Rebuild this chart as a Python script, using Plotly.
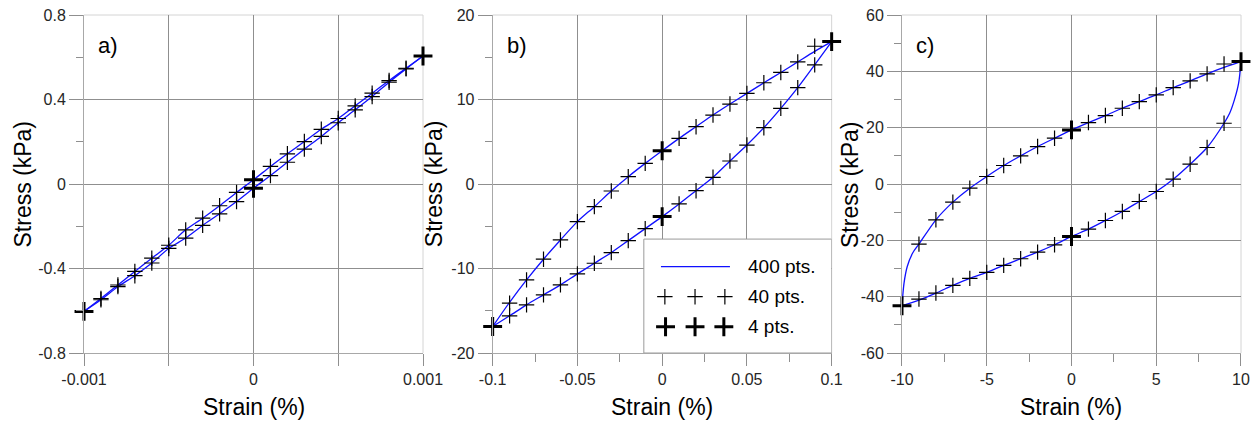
import plotly.graph_objects as go

# ---------------- data ----------------
# panel a)
strain_a = [-0.001, -0.0009, -0.0008, -0.0007, -0.0006, -0.0005, -0.0004, -0.0003, -0.0002, -0.0001,
            0.0, 0.0001, 0.0002, 0.0003, 0.0004, 0.0005, 0.0006, 0.0007, 0.0008, 0.0009, 0.001]
stress_a_up = [-0.603, -0.542, -0.478, -0.414, -0.351, -0.29, -0.217, -0.162, -0.103, -0.04,
               0.02, 0.083, 0.143, 0.201, 0.259, 0.31, 0.370, 0.43, 0.49, 0.548, 0.606]
stress_a_dn = [-0.603, -0.548, -0.486, -0.434, -0.374, -0.305, -0.256, -0.196, -0.141, -0.083,
               -0.02, 0.04, 0.103, 0.165, 0.225, 0.29, 0.351, 0.414, 0.482, 0.545, 0.606]
strain_a4 = [-0.001, 0.0, 0.001, 0.0]
stress_a4 = [-0.603, 0.02, 0.606, -0.02]

# panel b)
strain_b = [-0.1, -0.09, -0.08, -0.07, -0.06, -0.05, -0.04, -0.03, -0.02, -0.01,
            0.0, 0.01, 0.02, 0.03, 0.04, 0.05, 0.06, 0.07, 0.08, 0.09, 0.1]
stress_b_up = [-16.87, -14.1, -11.35, -8.9, -6.62, -4.45, -2.68, -0.83, 0.87, 2.44,
               3.94, 5.4, 6.78, 8.16, 9.46, 10.72, 11.98, 13.2, 14.45, 16.3, 16.85]
stress_b_dn = [-16.87, -15.6, -14.3, -13.12, -11.94, -10.64, -9.38, -8.12, -6.7, -5.28,
               -3.86, -2.36, -0.79, 0.79, 2.72, 4.61, 6.66, 8.95, 11.4, 14.1, 16.85]
line_b_up = [-16.87, -14.0, -11.35, -8.9, -6.62, -4.45, -2.68, -0.83, 0.87, 2.44,
             3.94, 5.4, 6.78, 8.16, 9.46, 10.72, 11.98, 13.2, 14.45, 15.7, 16.85]
line_b_dn = stress_b_dn
strain_b4 = [-0.1, 0.0, 0.1, 0.0]
stress_b4 = [-16.87, 3.94, 16.85, -3.86]

# panel c)
strain_c = [-10, -9, -8, -7, -6, -5, -4, -3, -2, -1, 0, 1, 2, 3, 4, 5, 6, 7, 8, 9, 10]
stress_c_up = [-43.2, -21.34, -12.71, -6.44, -1.48, 2.66, 6.56, 9.99, 13.3, 16.26,
               19.21, 21.81, 24.3, 26.9, 29.26, 31.63, 34.23, 36.6, 39.08, 42.6, 43.45]
stress_c_dn = [-43.2, -40.85, -38.72, -36.0, -33.52, -31.39, -28.9, -26.54, -24.18, -21.58,
               -18.62, -16.02, -12.95, -9.75, -6.21, -2.66, 1.71, 7.03, 12.95, 21.57, 43.45]
line_c_up_x = [-10, -9.88, -9.69, -9.37, -9, -8, -7, -6, -5, -4, -3, -2, -1, 0, 1, 2, 3, 4, 5, 6, 7, 8, 9, 10]
line_c_up_y = [-43.2, -35.2, -29.3, -24.5, -21.34, -12.71, -6.44, -1.48, 2.66, 6.56, 9.99, 13.3, 16.26,
               19.21, 21.81, 24.3, 26.9, 29.26, 31.63, 34.23, 36.6, 39.08, 41.4, 43.45]
line_c_dn_x = [-10, -9, -8, -7, -6, -5, -4, -3, -2, -1, 0, 1, 2, 3, 4, 5, 6, 7, 8, 9, 9.33, 9.61, 9.86, 10]
line_c_dn_y = [-43.2, -41.2, -38.72, -36.0, -33.52, -31.39, -28.9, -26.54, -24.18, -21.58,
               -18.62, -16.02, -12.95, -9.75, -6.21, -2.66, 1.71, 7.03, 12.95, 21.57, 25.1, 29.85, 35.8, 43.45]
strain_c4 = [-10, 0, 10, 0]
stress_c4 = [-43.2, 19.21, 43.45, -18.62]

# axes ticks
xt_a = [-0.001, -0.0005, 0, 0.0005, 0.001]
xl_a = ["-0.001", "", "0", "", "0.001"]
yt_a = [-0.8, -0.4, 0, 0.4, 0.8]
yl_a = ["-0.8", "-0.4", "0", "0.4", "0.8"]
xt_b = [-0.1, -0.05, 0, 0.05, 0.1]
xl_b = ["-0.1", "-0.05", "0", "0.05", "0.1"]
yt_b = [-20, -10, 0, 10, 20]
yl_b = ["-20", "-10", "0", "10", "20"]
xt_c = [-10, -5, 0, 5, 10]
xl_c = ["-10", "-5", "0", "5", "10"]
yt_c = [-60, -40, -20, 0, 20, 40, 60]
yl_c = ["-60", "-40", "-20", "0", "20", "40", "60"]

panel_labels = ["a)", "b)", "c)"]
legend_labels = ["400 pts.", "40 pts.", "4 pts."]

# ---------------- styling ----------------
BLUE = "#1010ff"
FONT = "Liberation Sans, Arial, sans-serif"
GRID = "#8f8f8f"
AXL = "#a8a8a8"
FRAME = "#d4d4d4"

fig = go.Figure()

x_ranges = [[-0.001, 0.001], [-0.1, 0.1], [-10, 10]]
y_ranges = [[-0.8, 0.8], [-20, 20], [-60, 60]]

# legend box of panel b) (white box hiding grid lines), drawn first in that panel
def fx(f, r=x_ranges[1]):
    return r[0] + f * (r[1] - r[0])
def fy(f, r=y_ranges[1]):
    return r[0] + f * (r[1] - r[0])

box_fx = [0.446, 1.0]
box_fy = [0.0, 0.337]
fig.add_trace(go.Scatter(x=[fx(box_fx[0]), fx(box_fx[1]), fx(box_fx[1]), fx(box_fx[0]), fx(box_fx[0])],
                         y=[fy(box_fy[0]), fy(box_fy[0]), fy(box_fy[1]), fy(box_fy[1]), fy(box_fy[0])],
                         mode="lines", fill="toself", fillcolor="white",
                         line=dict(color="#9a9a9a", width=1), xaxis="x2", yaxis="y2",
                         cliponaxis=False, showlegend=False, hoverinfo="skip"))

def add_panel(n, up_x, up_y, dn_x, dn_y, mx, m_up, m_dn, x4, y4):
    xa = "x" if n == 1 else f"x{n}"
    ya = "y" if n == 1 else f"y{n}"
    for lx, ly in ((up_x, up_y), (dn_x, dn_y)):
        fig.add_trace(go.Scatter(x=lx, y=ly, mode="lines", xaxis=xa, yaxis=ya,
                                 line=dict(color=BLUE, width=1.3, shape="spline", smoothing=0.8),
                                 showlegend=False, hoverinfo="skip"))
    fig.add_trace(go.Scatter(x=mx + mx, y=m_up + m_dn, mode="markers", xaxis=xa, yaxis=ya,
                             marker=dict(symbol="cross-thin", size=11, color="black",
                                         line=dict(color="black", width=1.2)),
                             cliponaxis=False, showlegend=False, hoverinfo="skip"))
    fig.add_trace(go.Scatter(x=x4, y=y4, mode="markers", xaxis=xa, yaxis=ya,
                             marker=dict(symbol="cross-thin", size=13.5, color="black",
                                         line=dict(color="black", width=3)),
                             cliponaxis=False, showlegend=False, hoverinfo="skip"))

add_panel(1, strain_a, stress_a_up, strain_a, stress_a_dn, strain_a, stress_a_up, stress_a_dn, strain_a4, stress_a4)
add_panel(2, strain_b, line_b_up, strain_b, line_b_dn, strain_b, stress_b_up, stress_b_dn, strain_b4, stress_b4)
add_panel(3, line_c_up_x, line_c_up_y, line_c_dn_x, line_c_dn_y, strain_c, stress_c_up, stress_c_dn, strain_c4, stress_c4)

tickfont = dict(family=FONT, size=16, color="#262626")

def xaxis(dom, tv, tt, rng, minor):
    d = dict(domain=dom, range=rng, tickmode="array", tickvals=tv, ticktext=tt,
             showgrid=True, gridcolor=GRID, gridwidth=1, zeroline=False,
             showline=True, linecolor=AXL, linewidth=1,
             ticks="outside", ticklen=12, tickcolor=GRID, tickwidth=1,
             tickfont=tickfont, fixedrange=True)
    if minor:
        d["minor"] = dict(dtick=minor, tick0=0, ticks="outside", ticklen=8,
                          tickcolor=GRID, tickwidth=1, showgrid=False)
    return d

def yaxis(anchor, tv, tt, rng, minor):
    return dict(domain=[0, 1], anchor=anchor, range=rng, tickmode="array", tickvals=tv, ticktext=tt,
                showgrid=True, gridcolor=GRID, gridwidth=1, zeroline=False,
                showline=True, linecolor=AXL, linewidth=1,
                ticks="outside", ticklen=14, tickcolor=GRID, tickwidth=1,
                tickfont=tickfont, fixedrange=True,
                minor=dict(dtick=minor, tick0=0, ticks="outside", ticklen=7,
                           tickcolor=GRID, tickwidth=1, showgrid=False))

doms = [[0.0, 0.293], [0.3532, 0.6462], [0.707, 1.0]]
fig.update_layout(
    xaxis=dict(**xaxis(doms[0], xt_a, xl_a, x_ranges[0], None), anchor="y"),
    xaxis2=dict(**xaxis(doms[1], xt_b, xl_b, x_ranges[1], 0.025), anchor="y2"),
    xaxis3=dict(**xaxis(doms[2], xt_c, xl_c, x_ranges[2], 2.5), anchor="y3"),
    yaxis=yaxis("x", yt_a, yl_a, y_ranges[0], 0.2),
    yaxis2=yaxis("x2", yt_b, yl_b, y_ranges[1], 5),
    yaxis3=yaxis("x3", yt_c, yl_c, y_ranges[2], 10),
)

shapes = []
annotations = []
yshift_title = [-61.5, -58.5, -52]
for i in range(3):
    sx = "x" if i == 0 else f"x{i+1}"
    sy = "y" if i == 0 else f"y{i+1}"
    # light top / right frame
    shapes.append(dict(type="line", xref=f"{sx} domain", yref=f"{sy} domain", x0=0, x1=1, y0=1, y1=1,
                       line=dict(color=FRAME, width=1), layer="below"))
    shapes.append(dict(type="line", xref=f"{sx} domain", yref=f"{sy} domain", x0=1, x1=1, y0=0, y1=1,
                       line=dict(color=FRAME, width=1), layer="below"))
    annotations.append(dict(text=panel_labels[i], xref=f"{sx} domain", yref=f"{sy} domain",
                            x=0.036, y=0.911, xanchor="left", yanchor="middle", showarrow=False,
                            font=dict(family=FONT, size=22, color="black")))
    annotations.append(dict(text="Strain (%)", xref=f"{sx} domain", yref=f"{sy} domain",
                            x=0.5, y=0, yshift=-54, xanchor="center", yanchor="middle", showarrow=False,
                            font=dict(family=FONT, size=23, color="black")))
    annotations.append(dict(text="Stress (kPa)", xref=f"{sx} domain", yref=f"{sy} domain",
                            x=0, y=0.5, xshift=yshift_title[i], textangle=-90,
                            xanchor="center", yanchor="middle", showarrow=False,
                            font=dict(family=FONT, size=23, color="black")))

# legend samples inside panel b)
leg_rows = [0.2553, 0.1666, 0.0778]
fig.add_trace(go.Scatter(x=[fx(0.4965), fx(0.700)], y=[fy(leg_rows[0])] * 2, mode="lines",
                         xaxis="x2", yaxis="y2", line=dict(color=BLUE, width=1.3),
                         showlegend=False, hoverinfo="skip"))
fig.add_trace(go.Scatter(x=[fx(0.508), fx(0.597), fx(0.685)], y=[fy(leg_rows[1])] * 3, mode="markers",
                         xaxis="x2", yaxis="y2",
                         marker=dict(symbol="cross-thin", size=11, color="black", line=dict(color="black", width=1.2)),
                         showlegend=False, hoverinfo="skip"))
fig.add_trace(go.Scatter(x=[fx(0.51), fx(0.597), fx(0.682)], y=[fy(leg_rows[2])] * 3, mode="markers",
                         xaxis="x2", yaxis="y2",
                         marker=dict(symbol="cross-thin", size=13.5, color="black", line=dict(color="black", width=3)),
                         showlegend=False, hoverinfo="skip"))
for lab, ry in zip(legend_labels, leg_rows):
    annotations.append(dict(text=lab, xref="x2 domain", yref="y2 domain", x=0.747, y=ry,
                            xanchor="left", yanchor="middle", showarrow=False,
                            font=dict(family=FONT, size=19, color="black")))

fig.update_layout(
    width=1256, height=421,
    margin=dict(l=84, r=15, t=15, b=68, autoexpand=False),
    paper_bgcolor="white", plot_bgcolor="white",
    shapes=shapes, annotations=annotations,
    showlegend=False,
)

fig.write_html("out.html", config={"displayModeBar": False},
               post_script="document.body.style.margin='0';document.body.style.overflow='hidden';")
